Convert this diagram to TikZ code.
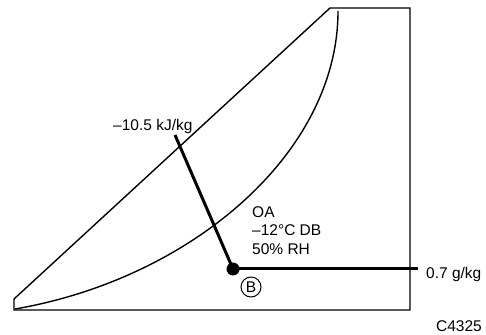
\documentclass[tikz,border=0pt]{standalone}
\usepackage{fontspec}
\setmainfont{Liberation Sans}
\tikzset{
  chartline/.style={line width=1.4pt},
  stateline/.style={line width=3pt},
  chartlabel/.style={anchor=base west,inner sep=0pt}
}
\begin{document}
\begin{tikzpicture}[x=1pt,y=1pt,font=\fontsize{15.5}{17}\selectfont]
            \useasboundingbox (0,0) rectangle (486,334);
            \def\bx{233}
            \def\by{65}
            % chart outline and saturation curve
            \draw[chartline] (14,24)--(14,35)--(330,326)--(410,326)--(410,24)--cycle;
            \draw[chartline] (15,25) .. controls (190,55) and (338,180) .. (338,323);
            % state point B
            \coordinate (enth) at (175,199);
            \coordinate (moist) at (418,\by);
            \node[circle,fill,inner sep=0pt,minimum size=13pt] (ptB) at (\bx,\by) {};
            \draw[stateline] (enth)--(ptB.center);
            \draw[stateline] (ptB.center)--(moist);
            \node[draw,circle,line width=1pt,inner sep=0pt,minimum size=20pt] (markB) at (251,47) {B};
            % labels
            \node[chartlabel] (enthlabel) at (113,203) {–10.5 kJ/kg};
            \node[chartlabel] (moistlabel) at (426,56) {0.7 g/kg};
            \node[chartlabel] (oa) at (252,116) {OA};
            \node[chartlabel] (db) at (252,98) {–12°C DB};
            \node[chartlabel] (rh) at (252,79) {50\% RH};
            \node[anchor=base east,inner sep=0pt] (fig) at (482,3) {C4325};
\end{tikzpicture}
\end{document}
